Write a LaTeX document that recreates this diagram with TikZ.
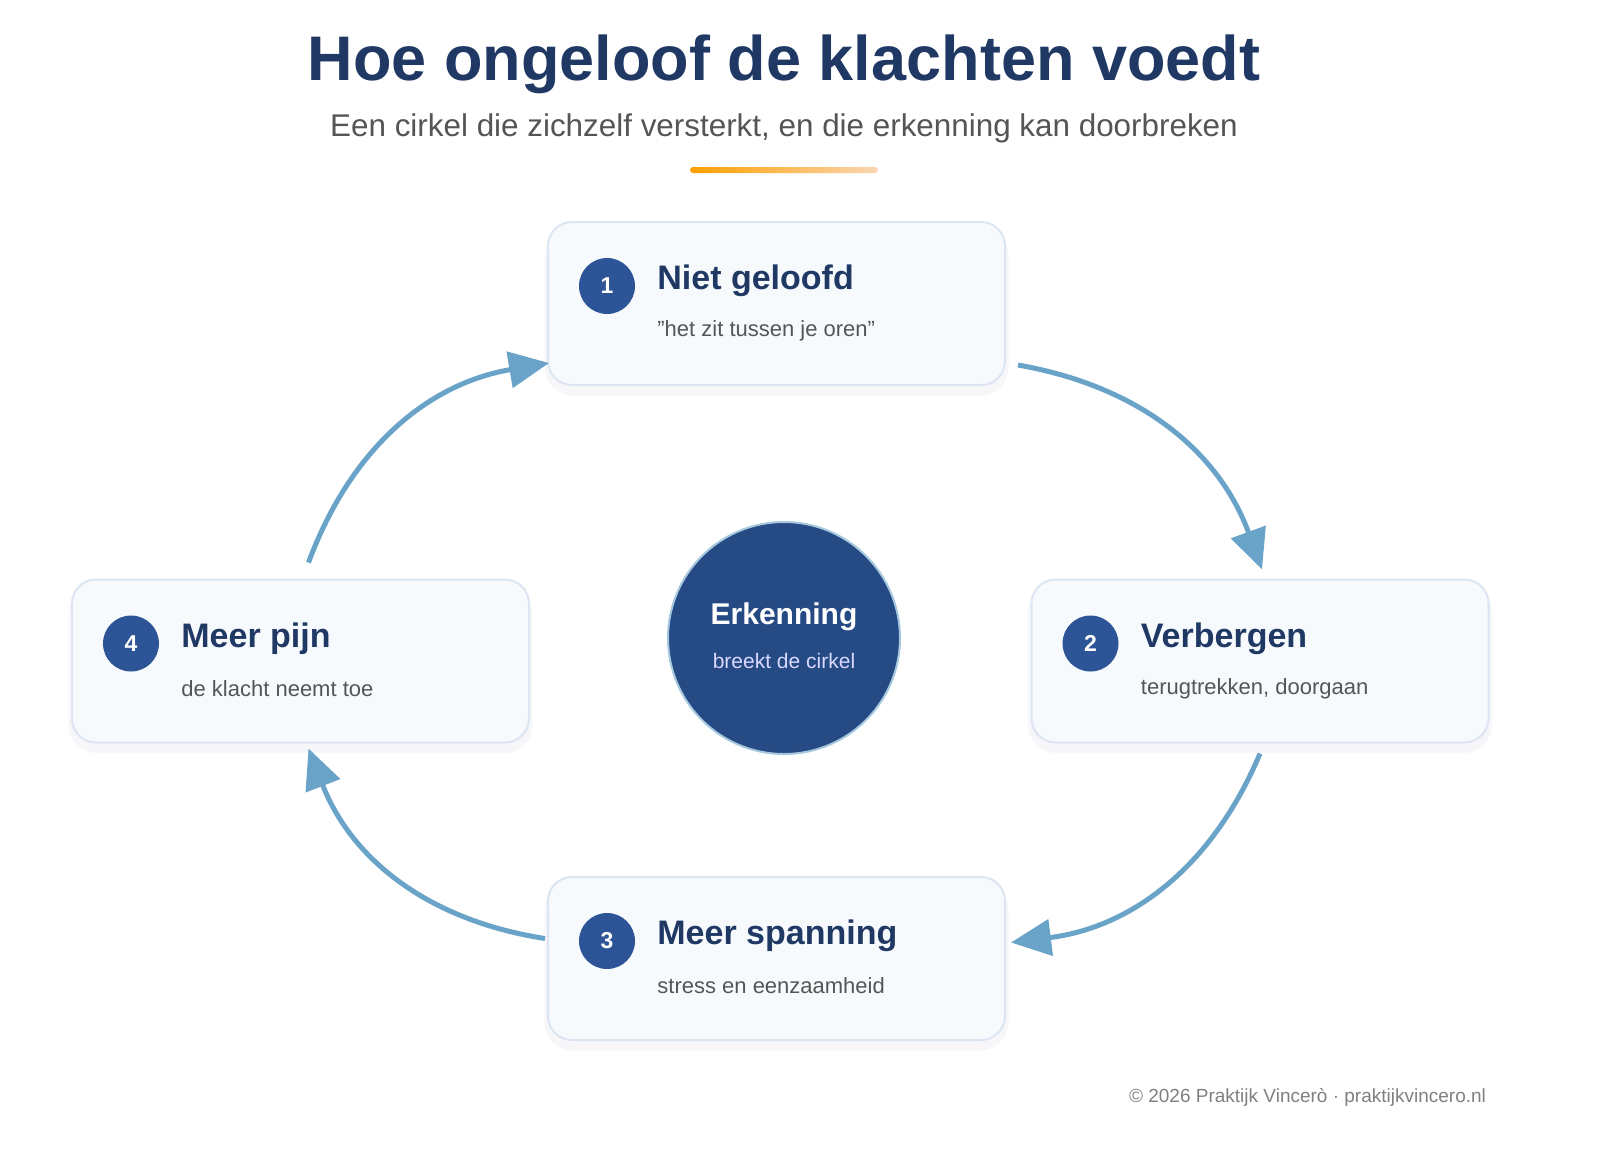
\documentclass[tikz,border=0pt]{standalone}
\usepackage{fontspec}
\setmainfont{Liberation Sans}
\usetikzlibrary{arrows.meta,positioning}
\definecolor{navy}{HTML}{1F3864}
\definecolor{badgeblue}{HTML}{2C5496}
\definecolor{corecol}{HTML}{264A84}
\definecolor{arrowcol}{HTML}{6AA3C8}
\definecolor{boxline}{HTML}{DCE6F2}
\definecolor{boxfill}{HTML}{F7FAFD}
\definecolor{greytext}{HTML}{555555}
\tikzset{
    stage/.style = {
        draw = boxline, line width = 1pt,
        fill = boxfill,
        rounded corners = 12pt,
        minimum width = 228.5pt,
        minimum height = 81.5pt,
    },
    stageshadow/.style = {
        fill = navy, opacity = 0.035,
        rounded corners = 14pt,
        minimum width = 232pt,
        minimum height = 84pt,
    },
    badge/.style = {
        circle, fill = badgeblue,
        minimum size = 28pt, inner sep = 0pt,
        text = white, font = \bfseries\fontsize{11.5}{13}\selectfont,
    },
    stagetitle/.style = {
        anchor = west, inner sep = 0pt, text = navy,
        font = \bfseries\fontsize{17}{20}\selectfont,
    },
    stagesub/.style = {
        anchor = west, inner sep = 0pt, text = greytext,
        font = \fontsize{11}{13}\selectfont,
    },
    loop arrow/.style = {
        -{Triangle[length=20pt,width=18pt]},
        draw = arrowcol, line width = 2.5pt, bend left = 30,
    },
}
\begin{document}
\begin{tikzpicture}[x=0.5pt,y=-0.5pt]
    \useasboundingbox[fill=white] (0,0) rectangle (1600,1152);

    % heading
    \node[text=navy,font=\bfseries\fontsize{31.5}{36}\selectfont] (title) at (784,64)
        {Hoe ongeloof de klachten voedt};
    \node[text=greytext,font=\fontsize{15.7}{18}\selectfont] (subtitle) at (784,128)
        {Een cirkel die zichzelf versterkt, en die erkenning kan doorbreken};
    \shade[left color=orange!75!yellow,right color=orange!25!white!90!brown,
        rounded corners=1.5pt] (690,167) rectangle (878,173);

    % shadows
    \foreach \x/\y in {776.5/303.5, 1260/661, 776.5/958.5, 300.5/661}
        \node[stageshadow] at (\x,\y+8) {};

    % the four stages
    \node[stage] (b1) at (776.5,303.5) {};
    \node[stage] (b2) at (1260,661) {};
    \node[stage] (b3) at (776.5,958.5) {};
    \node[stage] (b4) at (300.5,661) {};

    \foreach \b/\n/\head/\sub in {
            b1/1/Niet geloofd/{\symbol{34}het zit tussen je oren\symbol{34}},
            b2/2/Verbergen/{terugtrekken, doorgaan},
            b3/3/Meer spanning/{stress en eenzaamheid},
            b4/4/Meer pijn/{de klacht neemt toe}} {
        \node[badge] (\b-badge) at ([xshift=30pt,yshift=8.75pt]\b.west) {\n};
        \node[stagetitle] (\b-title) at ([xshift=55pt,yshift=11.25pt]\b.west) {\head};
        \node[stagesub] (\b-sub) at ([xshift=55pt,yshift=-13.75pt]\b.west) {\sub};
    }

    % centre
    \node[circle,fill=corecol,draw=arrowcol!60!white,line width=1pt,
        minimum size=116pt,inner sep=0pt] (core) at (784,638) {};
    \node[text=white,font=\bfseries\fontsize{15}{18}\selectfont] (core-title)
        at (784,617) {Erkenning};
    \node[text=blue!15!white,font=\fontsize{10.5}{12}\selectfont] (core-sub)
        at (784,661) {breekt de cirkel};

    % the cycle
    \draw[loop arrow] ([xshift=6pt,yshift=10.5pt]b1.south east) to ([xshift=1pt,yshift=4.5pt]b2.north);
    \draw[loop arrow] ([yshift=-5pt]b2.south) to ([xshift=2.5pt,yshift=8pt]b3.east);
    \draw[loop arrow] ([xshift=-1pt,yshift=10pt]b3.west) to ([xshift=4pt,yshift=-2.5pt]b4.south);
    \draw[loop arrow] ([xshift=4pt,yshift=8pt]b4.north) to ([xshift=1pt,yshift=11.5pt]b1.south west);

    \node[anchor=east,text=gray,font=\fontsize{9.5}{11}\selectfont] (footer) at (1493,1097)
        {© 2026 Praktijk Vincerò · praktijkvincero.nl};
\end{tikzpicture}
\end{document}
